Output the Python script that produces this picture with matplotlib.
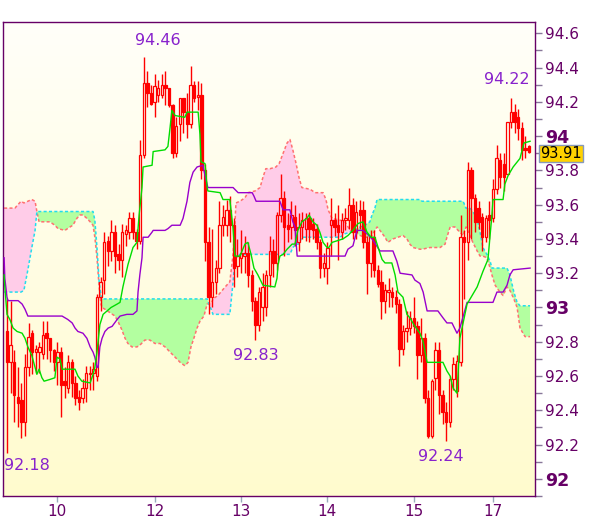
import numpy as np
import matplotlib.pyplot as plt
from matplotlib.patches import Rectangle
from matplotlib.transforms import blended_transform_factory

# --- candles (hourly) ---
opens = [92.86, 92.68, 92.68, 92.48, 92.46, 92.33, 92.65, 92.85, 92.74, 92.74,
         92.73, 92.85, 92.82, 92.75, 92.68, 92.74, 92.57, 92.53, 92.68, 92.56,
         92.48, 92.47, 92.53, 92.61, 92.62, 92.60, 93.06, 93.16, 93.39, 93.33,
         93.44, 93.31, 93.28, 93.43, 93.44, 93.52, 93.44, 93.39, 93.89, 94.31,
         94.25, 94.20, 94.24, 94.24, 94.30, 94.28, 94.18, 93.90, 94.07, 94.22,
         94.14, 94.07, 94.30, 94.23, 94.24, 93.80, 93.38, 93.06, 93.15, 93.23,
         93.48, 93.48, 93.57, 93.48, 93.24, 93.29, 93.30, 93.32, 93.19, 93.04,
         92.90, 93.00, 93.00, 93.19, 93.33, 93.26, 93.54, 93.64, 93.48, 93.47,
         93.53, 93.38, 93.47, 93.46, 93.52, 93.49, 93.46, 93.38, 93.23, 93.23,
         93.48, 93.51, 93.48, 93.44, 93.51, 93.51, 93.60, 93.44, 93.57, 93.57,
         93.38, 93.26, 93.41, 93.22, 93.15, 93.04, 93.09, 93.09, 93.06, 93.02,
         92.76, 92.86, 92.88, 92.94, 92.89, 92.72, 92.82, 92.47, 92.25, 92.59,
         92.75, 92.49, 92.39, 92.33, 92.58, 92.51, 92.68, 93.41, 93.38, 93.80,
         93.64, 93.58, 93.53, 93.41, 93.54, 93.52, 93.69, 93.86, 93.84, 93.78,
         94.08, 94.14, 94.11, 94.05, 93.93, 93.94]
highs = [93.05, 93.04, 92.75, 92.65, 92.56, 92.73, 92.91, 92.87, 92.78, 92.80,
         92.92, 92.92, 92.82, 92.76, 92.80, 92.77, 92.65, 92.72, 92.70, 92.60,
         92.52, 92.58, 92.66, 92.66, 92.68, 93.08, 93.18, 93.44, 93.42, 93.51,
         93.48, 93.37, 93.49, 93.48, 93.56, 93.56, 93.46, 93.98, 94.46, 94.38,
         94.30, 94.36, 94.33, 94.36, 94.38, 94.28, 94.19, 94.11, 94.22, 94.22,
         94.25, 94.41, 94.32, 94.32, 94.31, 93.84, 93.47, 93.46, 93.28, 93.62,
         93.60, 93.63, 93.65, 93.52, 93.40, 93.45, 93.42, 93.38, 93.22, 93.06,
         93.12, 93.20, 93.22, 93.42, 93.40, 93.56, 93.78, 93.68, 93.55, 93.62,
         93.60, 93.55, 93.56, 93.55, 93.56, 93.52, 93.49, 93.40, 93.32, 93.38,
         93.64, 93.55, 93.60, 93.55, 93.58, 93.70, 93.64, 93.62, 93.63, 93.62,
         93.42, 93.45, 93.45, 93.25, 93.22, 93.14, 93.17, 93.12, 93.10, 93.05,
         92.90, 92.98, 92.98, 93.06, 92.92, 92.94, 92.85, 92.52, 92.58, 92.80,
         92.80, 92.52, 92.45, 92.60, 92.71, 92.72, 93.54, 93.45, 93.85, 93.82,
         93.66, 93.62, 93.55, 93.54, 93.62, 93.75, 93.95, 93.90, 93.90, 94.08,
         94.22, 94.19, 94.16, 94.08, 94.00, 93.95]
lows = [92.15, 92.50, 92.33, 92.30, 92.24, 92.25, 92.60, 92.61, 92.62, 92.62,
        92.70, 92.70, 92.68, 92.63, 92.55, 92.36, 92.47, 92.50, 92.48, 92.43,
        92.40, 92.44, 92.45, 92.52, 92.52, 92.57, 92.98, 93.08, 93.24, 93.27,
        93.20, 93.22, 93.18, 93.36, 93.40, 93.40, 93.34, 93.37, 93.87, 94.17,
        94.18, 94.11, 94.20, 94.22, 94.18, 94.17, 93.87, 93.88, 93.97, 94.02,
        93.99, 94.05, 94.20, 94.15, 93.75, 93.27, 92.96, 93.00, 93.08, 93.20,
        93.42, 93.42, 93.38, 93.12, 93.18, 93.20, 93.20, 93.12, 92.98, 92.81,
        92.86, 92.92, 92.95, 93.12, 93.18, 93.22, 93.50, 93.30, 93.38, 93.40,
        93.36, 93.33, 93.40, 93.39, 93.38, 93.40, 93.34, 93.17, 93.18, 93.14,
        93.30, 93.42, 93.28, 93.40, 93.45, 93.46, 93.40, 93.40, 93.46, 93.35,
        93.08, 93.18, 93.18, 93.12, 92.93, 92.97, 93.00, 93.00, 92.97, 92.66,
        92.72, 92.80, 92.84, 92.85, 92.58, 92.68, 92.44, 92.24, 92.24, 92.52,
        92.38, 92.32, 92.22, 92.30, 92.52, 92.48, 92.66, 93.05, 93.28, 93.40,
        93.44, 93.46, 93.33, 93.38, 93.40, 93.50, 93.66, 93.70, 93.68, 93.78,
        94.05, 94.02, 93.98, 93.86, 93.87, 93.90]
closes = [92.68, 92.78, 92.49, 92.44, 92.33, 92.65, 92.83, 92.74, 92.76, 92.77,
          92.84, 92.82, 92.75, 92.68, 92.74, 92.55, 92.55, 92.68, 92.56, 92.47,
          92.45, 92.53, 92.62, 92.62, 92.64, 93.06, 93.15, 93.38, 93.33, 93.44,
          93.30, 93.28, 93.44, 93.45, 93.52, 93.44, 93.39, 93.89, 94.31, 94.25,
          94.19, 94.29, 94.28, 94.30, 94.28, 94.18, 93.90, 94.06, 94.22, 94.14,
          94.07, 94.30, 94.22, 94.24, 93.80, 93.38, 93.06, 93.15, 93.23, 93.48,
          93.53, 93.57, 93.48, 93.23, 93.30, 93.32, 93.32, 93.19, 93.04, 92.90,
          93.09, 93.12, 93.19, 93.33, 93.26, 93.54, 93.64, 93.47, 93.46, 93.54,
          93.45, 93.47, 93.51, 93.52, 93.46, 93.45, 93.38, 93.23, 93.26, 93.35,
          93.51, 93.47, 93.44, 93.51, 93.52, 93.60, 93.44, 93.56, 93.54, 93.38,
          93.26, 93.41, 93.22, 93.14, 93.04, 93.10, 93.10, 93.06, 93.02, 92.76,
          92.86, 92.88, 92.94, 92.89, 92.72, 92.82, 92.47, 92.25, 92.57, 92.75,
          92.49, 92.39, 92.33, 92.58, 92.67, 92.69, 93.41, 93.38, 93.80, 93.64,
          93.50, 93.50, 93.41, 93.52, 93.51, 93.69, 93.87, 93.76, 93.76, 94.08,
          94.14, 94.08, 94.05, 93.92, 93.92, 93.91]

day_pos = [14, 41, 65, 89, 113, 135]
day_labels = ['10', '12', '13', '14', '15', '17']

# conversion line (green)
tenkan_x = [-0.8, -0.6, 0, 0.8, 1.7, 2.8, 4.2, 5, 5.8, 6.9, 7.8, 8.3, 8.9, 9.7, 10.3,
            11.9, 13.3, 13.9, 14.7, 15.3, 18.9, 19.7, 20.8, 23.1, 23.9, 24.4, 25,
            25.8, 26.7, 27.8, 28.9, 30.6, 31.4, 32.2, 33.6, 35, 36.1, 36.7, 37.5,
            37.8, 40.3, 40.6, 43.9, 44.7, 45.3, 45.8, 46.7, 49.4, 50, 53.1, 53.6,
            53.9, 55, 55.6, 55.8, 59.2, 60, 61.9, 62.8, 63.3, 64.7, 66.1, 66.9,
            67.8, 68.6, 69.7, 71.1, 74.4, 75, 75.3, 75.8, 76.7, 77.8, 79.2, 80,
            80.8, 81.9, 83.3, 83.9, 85, 86.1, 86.9, 87.8, 88.9, 89.4, 90.3, 93.3,
            94.7, 96.1, 97.5, 98.9, 100, 101.1, 102.2, 103.1, 104.2, 105, 106.9,
            107.8, 108.6, 110, 111.1, 111.9, 113.3, 114.7, 115.6, 116.7, 121.1,
            122.2, 123.1, 123.9, 125, 125.3, 125.8, 127.8, 130.6, 132.2, 133.6,
            134.7, 135, 137.8, 138.3, 139.2, 140.6, 142.5, 143.6, 145.3]
tenkan_y = [93.19, 93.12, 92.96, 92.93, 92.88, 92.86, 92.85, 92.82, 92.77, 92.72,
            92.65, 92.61, 92.64, 92.59, 92.57, 92.58, 92.59, 92.71, 92.70, 92.64,
            92.64, 92.60, 92.57, 92.56, 92.61, 92.65, 92.74, 92.90, 92.96, 92.98,
            93.00, 93.02, 93.03, 93.12, 93.25, 93.35, 93.38, 93.54, 93.70, 93.82,
            93.83, 93.91, 93.92, 93.94, 94.05, 94.15, 94.12, 94.11, 94.14, 94.14,
            94.01, 93.85, 93.84, 93.70, 93.68, 93.67, 93.63, 93.63, 93.46, 93.30,
            93.30, 93.37, 93.38, 93.31, 93.23, 93.19, 93.13, 93.12, 93.17, 93.25,
            93.30, 93.31, 93.34, 93.37, 93.37, 93.45, 93.50, 93.52, 93.54, 93.50,
            93.48, 93.44, 93.38, 93.35, 93.35, 93.38, 93.40, 93.42, 93.45, 93.49,
            93.50, 93.44, 93.41, 93.41, 93.35, 93.28, 93.26, 93.26, 93.19, 93.09,
            93.06, 92.96, 92.94, 92.89, 92.85, 92.80, 92.68, 92.68, 92.63, 92.60,
            92.53, 92.50, 92.61, 92.82, 93.02, 93.12, 93.21, 93.28, 93.54, 93.63,
            93.63, 93.72, 93.77, 93.82, 93.87, 93.96, 93.97]

# base line (purple)
kijun_x = [-0.8, -0.6, 0, 0.3, 3.1, 4.2, 5, 5.8, 15.3, 16.9, 18.1, 18.9, 19.7, 21.1,
           22.2, 23.1, 23.9, 24.4, 25, 25.3, 25.8, 26.4, 27.2, 28.1, 29.2, 30.6,
           31.4, 33.3, 35, 36.1, 36.4, 36.9, 37.5, 37.8, 39.2, 40.3, 40.6, 43.9,
           44.7, 45.8, 48.1, 48.9, 50, 50.8, 51.7, 52.8, 54.4, 55, 55.8, 62.8,
           64.2, 68.1, 68.6, 69.2, 75.8, 76.7, 78.6, 79.4, 80, 80.6, 93.9, 94.7,
           96.1, 97.2, 98.9, 100, 101.4, 103.6, 107.2, 108.3, 109.2, 112.5, 113.3,
           114.7, 115.6, 116.7, 119.7, 121.1, 122.2, 123.6, 125, 125.8, 127.8,
           135, 136.1, 137.8, 138.9, 139.7, 140.6, 145.3]
kijun_y = [93.29, 93.17, 93.06, 93.04, 93.04, 93.02, 92.99, 92.95, 92.95, 92.93,
           92.91, 92.88, 92.86, 92.85, 92.82, 92.77, 92.74, 92.71, 92.65, 92.65,
           92.77, 92.82, 92.86, 92.88, 92.89, 92.93, 92.95, 92.96, 92.96, 92.98,
           93.09, 93.19, 93.29, 93.41, 93.41, 93.44, 93.45, 93.45, 93.46, 93.48,
           93.48, 93.52, 93.62, 93.73, 93.79, 93.82, 93.83, 93.77, 93.70, 93.70,
           93.67, 93.67, 93.65, 93.62, 93.62, 93.57, 93.57, 93.50, 93.47, 93.30,
           93.30, 93.34, 93.36, 93.45, 93.45, 93.43, 93.40, 93.33, 93.33, 93.27,
           93.20, 93.19, 93.16, 93.14, 93.09, 92.98, 92.98, 92.94, 92.91, 92.91,
           92.85, 92.88, 93.03, 93.03, 93.09, 93.09, 93.13, 93.19, 93.22, 93.23]

# cloud: leading span A (cyan) and leading span B (salmon)
cloud_x = [-0.8, 0.8, 2.2, 3.9, 4.7, 5.8, 6.9, 7.8, 8.3, 8.9, 11.9, 13.3, 14.2, 16.1,
           17.5, 18.3, 19.4, 20.3, 21.1, 22.2, 23.1, 23.9, 24.4, 25, 25.6, 26.1,
           26.4, 27.2, 28.6, 30, 30.8, 31.9, 32.8, 33.6, 34.7, 36.1, 36.9, 38.3,
           39.7, 41.1, 42.5, 43.9, 45.3, 46.7, 48.1, 49.4, 50.3, 51.1, 51.9, 52.8,
           53.6, 54.7, 55.6, 56.1, 56.9, 57.2, 58.6, 60.6, 61.9, 62.8, 63.3, 63.6,
           64.7, 66.1, 66.9, 68.9, 70.3, 71.1, 71.9, 73.1, 74.7, 75.6, 76.7, 77.8,
           78.6, 79.4, 80.3, 81.1, 81.9, 84.2, 85.6, 87.8, 88.6, 89.2, 90.3, 92.5,
           93.9, 95.3, 96.7, 98.1, 99.4, 100.8, 101.4, 102.2, 102.8, 103.6, 105,
           105.8, 107.2, 108.6, 110, 111.1, 111.9, 112.8, 114.7, 115.3, 117.5,
           120.3, 121.7, 122.2, 123.1, 124.4, 125.8, 126.7, 127.5, 128.6, 129.4,
           130.6, 131.4, 132.2, 133.3, 134.2, 134.7, 135.6, 136.9, 137.8, 138.9,
           139.7, 140.8, 141.7, 142.5, 143.9, 145.3]
span_a = [93.09, 93.09, 93.09, 93.09, 93.10, 93.22, 93.35, 93.45, 93.56, 93.56,
          93.56, 93.56, 93.56, 93.56, 93.56, 93.56, 93.56, 93.56, 93.56, 93.56,
          93.56, 93.56, 93.51, 93.35, 93.15, 93.07, 93.05, 93.05, 93.05, 93.05,
          93.05, 93.05, 93.05, 93.05, 93.05, 93.05, 93.05, 93.05, 93.05, 93.05,
          93.05, 93.05, 93.05, 93.05, 93.05, 93.05, 93.05, 93.05, 93.05, 93.05,
          93.05, 93.05, 93.05, 93.02, 92.98, 92.96, 92.96, 92.96, 92.96, 93.15,
          93.27, 93.29, 93.31, 93.31, 93.31, 93.31, 93.31, 93.31, 93.31, 93.31,
          93.31, 93.31, 93.31, 93.31, 93.31, 93.35, 93.37, 93.37, 93.41, 93.41,
          93.41, 93.41, 93.41, 93.41, 93.41, 93.41, 93.43, 93.44, 93.45, 93.47,
          93.48, 93.50, 93.54, 93.58, 93.63, 93.63, 93.63, 93.63, 93.63, 93.63,
          93.63, 93.63, 93.63, 93.63, 93.63, 93.62, 93.62, 93.62, 93.62, 93.62,
          93.62, 93.62, 93.62, 93.62, 93.58, 93.58, 93.56, 93.52, 93.44, 93.35,
          93.31, 93.27, 93.23, 93.23, 93.23, 93.23, 93.23, 93.19, 93.09, 93.03,
          93.01, 93.01, 93.01]
span_b = [93.58, 93.58, 93.58, 93.62, 93.61, 93.62, 93.63, 93.62, 93.56, 93.50,
          93.50, 93.48, 93.46, 93.45, 93.47, 93.48, 93.52, 93.54, 93.54, 93.52,
          93.50, 93.48, 93.41, 93.29, 93.12, 93.02, 93.00, 92.99, 92.97, 92.95,
          92.92, 92.87, 92.82, 92.79, 92.77, 92.77, 92.78, 92.81, 92.81, 92.79,
          92.79, 92.77, 92.74, 92.71, 92.68, 92.66, 92.68, 92.77, 92.82, 92.88,
          92.92, 92.95, 93.02, 93.02, 93.03, 93.05, 93.07, 93.12, 93.15, 93.31,
          93.48, 93.61, 93.62, 93.64, 93.67, 93.68, 93.70, 93.76, 93.81, 93.81,
          93.82, 93.84, 93.90, 93.96, 93.98, 93.92, 93.84, 93.76, 93.70, 93.69,
          93.67, 93.67, 93.63, 93.57, 93.52, 93.51, 93.50, 93.45, 93.44, 93.42,
          93.41, 93.41, 93.42, 93.45, 93.47, 93.45, 93.41, 93.38, 93.40, 93.41,
          93.42, 93.40, 93.37, 93.35, 93.34, 93.34, 93.35, 93.35, 93.37, 93.41,
          93.47, 93.47, 93.44, 93.42, 93.47, 93.42, 93.38, 93.33, 93.30, 93.30,
          93.29, 93.23, 93.19, 93.13, 93.09, 93.07, 93.12, 93.10, 93.05, 93.00,
          92.88, 92.83, 92.83]

# high / low markers
mark_text = ['94.46', '92.83', '92.18', '92.24', '94.22']
mark_x = [42.0, 69.0, 5.5, 120.5, 138.8]
mark_y = [94.56, 92.72, 92.08, 92.13, 94.33]

last_price = 93.91

RED = '#FF0000'
FRAME = '#660066'

fig = plt.figure(figsize=(6, 5.19), dpi=100)
ax = fig.add_axes([3 / 600, 23 / 519, 532 / 600, 474 / 519])
ax.set_xlim(-1.11, 146.67)
ax.set_ylim(91.902, 94.666)

# background gradient, white at top to pale yellow at bottom
grad = np.linspace(0, 1, 256).reshape(-1, 1)
top_c = np.array([255, 255, 249]) / 255
bot_c = np.array([255, 251, 206]) / 255
img = top_c[None, None, :] * (1 - grad[:, :, None]) + bot_c[None, None, :] * grad[:, :, None]
ax.imshow(img, extent=[0, 1, 0, 1], transform=ax.transAxes, aspect='auto', zorder=0)

# --- cloud ---
ca = np.array(span_a)
cb = np.array(span_b)
ax.fill_between(cloud_x, ca, cb, where=ca >= cb, interpolate=True,
                facecolor='#B3FFA0', edgecolor='none', zorder=1)
ax.fill_between(cloud_x, ca, cb, where=cb > ca, interpolate=True,
                facecolor='#FFCCE8', edgecolor='none', zorder=1)
ax.plot(cloud_x, span_b, color='#FF7070', lw=1.1, dashes=(2, 1.5), zorder=2)
ax.plot(cloud_x, span_a, color='#22DDEE', lw=1.1, dashes=(2, 1.5), zorder=2)

# --- candles ---
w = 0.62
for i in range(len(closes)):
    o, h, l, c = opens[i], highs[i], lows[i], closes[i]
    top, bot = max(o, c), min(o, c)
    ax.plot([i, i], [top, h], color=RED, lw=1.0, zorder=3, solid_capstyle='butt')
    ax.plot([i, i], [l, bot], color=RED, lw=1.0, zorder=3, solid_capstyle='butt')
    up = c >= o
    ax.add_patch(Rectangle((i - w / 2, bot), w, max(top - bot, 0.005),
                           facecolor='none' if up else RED, edgecolor=RED,
                           lw=0.9, zorder=3))

# --- conversion / base lines ---
ax.plot(kijun_x, kijun_y, color='#9900CC', lw=1.0, zorder=4)
ax.plot(tenkan_x, tenkan_y, color='#00DD00', lw=1.0, zorder=4)

for t, x, y in zip(mark_text, mark_x, mark_y):
    ax.text(x, y, t, color='#8822CC', fontsize=11.5, ha='center', va='center', zorder=5)

# --- axes styling ---
for s in ax.spines.values():
    s.set_color(FRAME)
    s.set_linewidth(1.0)

ax.yaxis.tick_right()
major = np.round(np.arange(92.0, 94.61, 0.2), 1)
labels = [('%d' % v) if abs(v - round(v)) < 1e-6 else ('%.1f' % v) for v in major]
ax.set_yticks(major, labels)
ax.set_yticks(np.round(np.arange(91.9, 94.66, 0.1), 1), minor=True)
ax.tick_params(axis='y', which='both', length=5, width=1, color='#887799',
               labelcolor=FRAME, labelsize=11, pad=2)
for lab in ax.get_yticklabels():
    if lab.get_text() in ('92', '93', '94'):
        lab.set_fontweight('bold')
        lab.set_fontsize(12.5)

ax.set_xticks(day_pos, day_labels)
ax.tick_params(axis='x', length=4, width=1, color='#99AABB', labelcolor=FRAME,
               labelsize=11, pad=2)

# last price box, a little below the '94' tick label
trans = blended_transform_factory(ax.transAxes, ax.transData)
ax.text(1.01, last_price - 0.01, '%.2f' % last_price, transform=trans, ha='left',
        va='center', fontsize=10.5, color='black', zorder=6,
        bbox=dict(boxstyle='square,pad=0.06', facecolor='#FFD200', edgecolor='#8899BB', lw=1))

fig.savefig('out.png', dpi=100)
